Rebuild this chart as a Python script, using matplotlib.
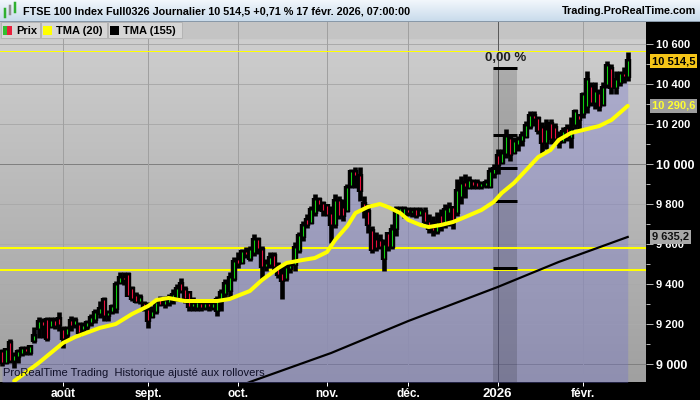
import numpy as np
import matplotlib
matplotlib.use('Agg')
import matplotlib.pyplot as plt
from matplotlib.patches import Rectangle
from matplotlib.colors import LinearSegmentedColormap
from matplotlib.transforms import blended_transform_factory

plt.rcParams['font.family'] = ['Liberation Sans', 'DejaVu Sans']

##########################################################################################
#### Data (FTSE 100, daily bars)
opens = [9060, 9010, 9105, 9020, 9040, 9055, 9075, 9060, 9120, 9180,
         9210, 9220, 9190, 9215, 9225, 9170, 9150, 9215, 9200, 9195,
         9175, 9190, 9210, 9225, 9255, 9320, 9245, 9265, 9280, 9410,
         9430, 9445, 9375, 9340, 9315, 9300, 9270, 9240, 9265, 9320,
         9300, 9310, 9330, 9335, 9400, 9370, 9355, 9290, 9285, 9300,
         9285, 9300, 9285, 9270, 9320, 9355, 9370, 9430, 9520, 9510,
         9560, 9530, 9560, 9620, 9570, 9490, 9500, 9540, 9490, 9450,
         9430, 9480, 9500, 9570, 9640, 9720, 9710, 9760, 9820, 9800,
         9790, 9750, 9700, 9815, 9780, 9770, 9895, 9960, 9940, 9800,
         9760, 9665, 9620, 9615, 9530, 9650, 9590, 9680, 9760, 9750,
         9770, 9760, 9770, 9750, 9760, 9710, 9680, 9665, 9740, 9700,
         9760, 9780, 9760, 9840, 9905, 9885, 9910, 9905, 9890, 9895,
         9890, 9955, 10040, 10010, 10055, 10125, 10060, 10100, 10120, 10140,
         10190, 10240, 10225, 10180, 10110, 10200, 10180, 10130, 10115, 10175,
         10135, 10200, 10240, 10255, 10290, 10385, 10310, 10350, 10300, 10400,
         10475, 10385, 10410, 10450, 10440]
highs = [9070, 9075, 9120, 9055, 9070, 9085, 9085, 9090, 9180, 9230,
         9225, 9230, 9230, 9230, 9255, 9185, 9185, 9235, 9230, 9205,
         9205, 9215, 9245, 9270, 9310, 9330, 9265, 9295, 9410, 9455,
         9455, 9455, 9385, 9355, 9345, 9310, 9305, 9285, 9320, 9335,
         9335, 9345, 9370, 9395, 9425, 9385, 9360, 9330, 9320, 9320,
         9320, 9310, 9310, 9335, 9370, 9420, 9455, 9530, 9555, 9570,
         9580, 9585, 9645, 9630, 9585, 9520, 9555, 9555, 9505, 9485,
         9495, 9510, 9605, 9655, 9710, 9745, 9785, 9845, 9830, 9810,
         9795, 9785, 9845, 9835, 9820, 9895, 9970, 9980, 9980, 9835,
         9795, 9685, 9655, 9645, 9620, 9655, 9695, 9785, 9785, 9785,
         9780, 9780, 9780, 9780, 9780, 9745, 9735, 9755, 9770, 9795,
         9805, 9785, 9920, 9935, 9945, 9935, 9920, 9920, 9910, 9920,
         9980, 9995, 10070, 10070, 10170, 10135, 10130, 10135, 10160, 10210,
         10260, 10260, 10235, 10205, 10220, 10220, 10200, 10160, 10180, 10195,
         10230, 10270, 10245, 10355, 10460, 10405, 10405, 10370, 10405, 10510,
         10495, 10460, 10460, 10480, 10555]
lows = [8995, 9005, 9010, 8985, 9010, 9045, 9050, 9050, 9110, 9135,
        9135, 9120, 9185, 9180, 9170, 9085, 9120, 9170, 9185, 9145,
        9160, 9175, 9195, 9210, 9235, 9220, 9220, 9255, 9260, 9405,
        9400, 9355, 9320, 9310, 9305, 9270, 9185, 9235, 9255, 9295,
        9285, 9295, 9305, 9320, 9360, 9310, 9270, 9270, 9270, 9270,
        9275, 9270, 9275, 9245, 9270, 9335, 9335, 9420, 9485, 9505,
        9535, 9520, 9545, 9555, 9430, 9470, 9485, 9470, 9435, 9330,
        9420, 9460, 9470, 9560, 9620, 9685, 9705, 9745, 9770, 9745,
        9745, 9610, 9685, 9730, 9720, 9765, 9885, 9885, 9820, 9735,
        9660, 9560, 9570, 9580, 9470, 9570, 9580, 9645, 9755, 9735,
        9745, 9740, 9735, 9745, 9705, 9660, 9645, 9655, 9670, 9685,
        9695, 9680, 9745, 9805, 9835, 9880, 9880, 9880, 9880, 9885,
        9885, 9935, 9955, 10005, 10035, 10020, 10055, 10070, 10095, 10135,
        10180, 10195, 10155, 10060, 10080, 10105, 10100, 10085, 10110, 10120,
        10085, 10180, 10180, 10235, 10260, 10295, 10280, 10270, 10295, 10385,
        10355, 10355, 10395, 10410, 10420]
closes = [9010, 9070, 9020, 9040, 9060, 9075, 9065, 9085, 9140, 9210,
          9195, 9130, 9215, 9195, 9200, 9130, 9175, 9195, 9215, 9160,
          9190, 9205, 9230, 9255, 9275, 9245, 9255, 9285, 9395, 9430,
          9425, 9345, 9330, 9315, 9330, 9280, 9220, 9260, 9305, 9300,
          9315, 9330, 9345, 9375, 9370, 9330, 9290, 9300, 9305, 9285,
          9300, 9290, 9300, 9320, 9355, 9400, 9430, 9510, 9505, 9560,
          9550, 9570, 9620, 9580, 9490, 9500, 9530, 9490, 9450, 9420,
          9480, 9490, 9580, 9640, 9690, 9700, 9770, 9820, 9800, 9770,
          9750, 9700, 9815, 9745, 9745, 9880, 9960, 9945, 9870, 9775,
          9700, 9575, 9585, 9590, 9595, 9590, 9670, 9760, 9775, 9775,
          9760, 9765, 9745, 9765, 9715, 9680, 9670, 9705, 9700, 9770,
          9780, 9720, 9865, 9900, 9890, 9915, 9895, 9890, 9900, 9905,
          9960, 9975, 10000, 10050, 10135, 10050, 10110, 10120, 10140, 10190,
          10240, 10230, 10170, 10110, 10170, 10130, 10130, 10110, 10160, 10135,
          10170, 10260, 10225, 10345, 10420, 10310, 10360, 10290, 10380, 10490,
          10385, 10420, 10450, 10440, 10514.5]

month_idx = [15, 36, 58, 80, 100, 122, 143]
month_lbl = ['août', 'sept.', 'oct.', 'nov.', 'déc.', '2026', 'févr.']

# TMA (20) and TMA (155) read at a few bars
tma20_idx = [3, 9, 15, 18, 24, 28, 32, 36, 38, 41, 45, 49, 53, 56, 61, 64, 68, 70,
             74, 77, 80, 82, 85, 87, 90, 93, 95, 98, 100, 103, 105, 108, 111, 114,
             118, 121, 123, 126, 129, 132, 135, 137, 140, 143, 147, 150, 152, 154]
tma20_val = [8915, 9005, 9105, 9135, 9180, 9200, 9250, 9290, 9320, 9330, 9315, 9315,
             9315, 9325, 9365, 9420, 9480, 9505, 9520, 9530, 9560, 9620, 9690, 9755,
             9785, 9800, 9785, 9755, 9720, 9695, 9685, 9695, 9710, 9735, 9770, 9810,
             9855, 9905, 9970, 10035, 10070, 10120, 10155, 10170, 10190, 10220,
             10255, 10290.6]
tma155_idx = [55, 61, 81, 100, 122, 137, 154]
tma155_val = [8860, 8910, 9055, 9215, 9385, 9510, 9635.2]

hlines_y = [10565, 9580, 9470]
box_idx = [120.9, 126.8]
box_levels = [10480, 10147, 9980, 9813, 9480]
box_pct = '0,00 %'

title_txt = 'FTSE 100 Index Full0326 Journalier 10 514,5 +0,71 % 17 févr. 2026, 07:00:00'

##########################################################################################
#### Figure
PX = 72 / 100.0
fig = plt.figure(figsize=(7, 4), dpi=100, facecolor='black')
ax = fig.add_axes([0, 18 / 400, 646 / 700, 361 / 400])
ax.set_facecolor('#BEBEBE')
ylo, yhi = 8910, 10715
x = np.arange(len(closes))

# background gradient + legend strip
grad = np.linspace(0, 1, 256).reshape(-1, 1)
cm_bg = LinearSegmentedColormap.from_list('bg', ['#D0D0D0', '#A0A0A0'])
ax.imshow(grad, extent=[0, 1, 0, 1], transform=ax.transAxes, aspect='auto',
          cmap=cm_bg, zorder=0)
ax.add_patch(Rectangle((0, 1 - 17 / 361), 1, 17 / 361, transform=ax.transAxes,
                       color='#C4C4C4', zorder=0.5))

# grid
for v in range(9000, 10700, 200):
    ax.axhline(v, color='#808080' if v % 1000 == 0 else '#AAAAAA', lw=1 * PX, zorder=1)
for m, lbl in zip(month_idx, month_lbl):
    ax.axvline(m, color='#5A5A5A' if lbl == '2026' else '#A0A0A0', lw=1 * PX, zorder=1)

# area under the price
ax.fill_between(x, closes, ylo - 100, color='#6E6ED2', alpha=0.32, lw=0, zorder=2)

# measurement box
ax.add_patch(Rectangle((box_idx[0], ylo), box_idx[1] - box_idx[0], box_levels[0] - ylo,
                       color='black', alpha=0.15, lw=0, zorder=2.5))

# horizontal yellow lines
ax.axhline(hlines_y[0], color='#FFFF00', lw=1 * PX, zorder=3)
for v in hlines_y[1:]:
    ax.axhline(v, color='#FFFF00', lw=2 * PX, zorder=3)

# TMA 155
ax.plot(tma155_idx, tma155_val, color='black', lw=2.2 * PX, zorder=3.5)

# candles
o = np.array(opens, float); c = np.array(closes, float)
h = np.array(highs, float); l = np.array(lows, float)
ax.vlines(x, l - 6, h + 6, color='black', lw=4.6 * PX, zorder=4)
ax.vlines(x, np.minimum(o, c) - 10, np.maximum(o, c) + 10, color='black', lw=6.4 * PX, zorder=4)
cols = ['#10D010' if cc >= oo else '#E8103C' for oo, cc in zip(o, c)]
ax.vlines(x, o, c, colors=cols, lw=1.1 * PX, zorder=5)

# box levels
ax.hlines(box_levels, box_idx[0], box_idx[1], color='black', lw=3 * PX, zorder=6)
ax.text(sum(box_idx) / 2, box_levels[0] + 22, box_pct, ha='center', va='bottom',
        fontsize=9.5, fontweight='bold', color='#202020', zorder=8)

# TMA 20
ax.plot(tma20_idx, tma20_val, color='#FFFF00', lw=4 * PX, zorder=7,
        solid_capstyle='round', solid_joinstyle='round')

ax.text(0.005, 0.012, 'ProRealTime Trading  Historique ajusté aux rollovers',
        transform=ax.transAxes, fontsize=8, color='#101028', zorder=8, va='bottom')

ax.set_xlim(-0.49, 158.5)
ax.set_ylim(ylo, yhi)
for s in ax.spines.values():
    s.set_visible(False)

# axes ticks
ax.yaxis.tick_right()
ax.set_yticks(range(9000, 10700, 200))
ax.set_yticklabels([f'{v:,}'.replace(',', ' ') for v in range(9000, 10700, 200)])
ax.set_yticks(range(9100, 10700, 200), minor=True)
ax.tick_params(axis='y', which='major', color='#B0B0B0', labelcolor='white',
               length=5, width=1 * PX, pad=2, labelsize=8)
ax.tick_params(axis='y', which='minor', color='#B0B0B0', length=3, width=1 * PX)
for t, v in zip(ax.get_yticklabels(), range(9000, 10700, 200)):
    t.set_fontweight('bold')
    if v % 1000 == 0:
        t.set_fontsize(9)
ax.set_xticks(month_idx)
ax.set_xticklabels(month_lbl)
ax.tick_params(axis='x', color='white', labelcolor='white', length=3, width=1 * PX,
               pad=1, labelsize=8.5)
for t in ax.get_xticklabels():
    t.set_fontweight('bold')
    if t.get_text() == '2026':
        t.set_fontsize(9.5)

# value labels on the right axis
tr = blended_transform_factory(ax.transAxes, ax.transData)
def price_tag(val, txt, fc, tc):
    ax.text(1.009, val, txt, transform=tr, ha='left', va='center', fontsize=8,
            fontweight='bold', color=tc, clip_on=False, zorder=20,
            bbox=dict(boxstyle='square,pad=0.18', fc=fc, ec='none'))
price_tag(closes[-1], '10 514,5', '#F5C518', 'black')
price_tag(tma20_val[-1], '10 290,6', '#9E9E9E', '#FFFF30')
price_tag(tma155_val[-1], '9 635,2', '#A8A8A8', '#101010')

##########################################################################################
#### Title bar and legend (pixel overlay)
ov = fig.add_axes([0, 0, 1, 1], zorder=10)
ov.set_xlim(0, 700); ov.set_ylim(400, 0); ov.axis('off')
ov.patch.set_alpha(0)
cm_t = LinearSegmentedColormap.from_list('tb', ['#F2F7FC', '#C9DBEB'])
ov.imshow(grad, extent=[0, 700, 21, 0], aspect='auto', cmap=cm_t, zorder=1)
ov.plot([0, 700], [21, 21], color='#8898A8', lw=1 * PX, zorder=2)
# small candle icon
ov.plot([5, 5], [9, 17], color='#30B030', lw=2.5 * PX, zorder=2)
ov.plot([10, 10], [6, 14], color='#909090', lw=2.5 * PX, zorder=2)
ov.plot([15, 15], [3, 12], color='#30B030', lw=2.5 * PX, zorder=2)
ov.text(23, 11, title_txt, fontsize=7.8, fontweight='bold', va='center', color='black', zorder=3)
ov.text(696, 11, 'Trading.ProRealTime.com', fontsize=7.8, fontweight='bold', va='center',
        ha='right', color='black', zorder=3)

leg = [(0, 40, 'Prix', None), (40, 107, 'TMA (20)', '#FFFF00'), (107, 182, 'TMA (155)', '#000000')]
for x0, x1, txt, col in leg:
    ov.add_patch(Rectangle((x0 + 0.5, 22), x1 - x0 - 1, 16, fc='#D6D6D6', ec='#B4B4B4',
                           lw=1 * PX, zorder=2))
    if col is None:
        ov.add_patch(Rectangle((x0 + 3, 26), 4, 9, fc='#30C030', ec='none', zorder=3))
        ov.add_patch(Rectangle((x0 + 7, 26), 5, 9, fc='#E8203C', ec='none', zorder=3))
    else:
        ov.add_patch(Rectangle((x0 + 3, 26), 9, 9, fc=col, ec='none', zorder=3))
    ov.text(x0 + 16, 31, txt, fontsize=8, fontweight='bold', va='center', color='black', zorder=3)

fig.savefig('out.png', dpi=100, facecolor='black')
